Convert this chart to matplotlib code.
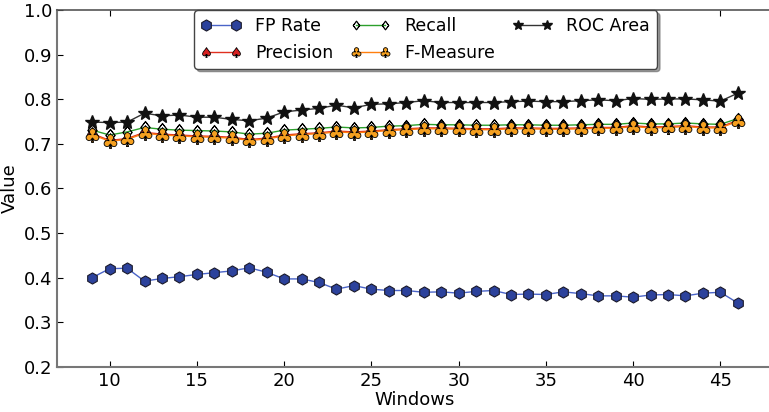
import matplotlib
matplotlib.use("Agg")
import matplotlib.pyplot as plt

# windows 9..46
windows = list(range(9, 47))

fp_rate = [0.400, 0.420, 0.421, 0.392, 0.398, 0.402, 0.407, 0.411, 0.415, 0.422,
           0.412, 0.397, 0.397, 0.389, 0.374, 0.382, 0.374, 0.371, 0.371, 0.367,
           0.368, 0.365, 0.369, 0.371, 0.362, 0.363, 0.362, 0.368, 0.364, 0.359,
           0.359, 0.356, 0.361, 0.362, 0.359, 0.365, 0.367, 0.343]

precision = [0.723, 0.708, 0.712, 0.726, 0.722, 0.720, 0.718, 0.717, 0.715, 0.710,
             0.713, 0.720, 0.723, 0.725, 0.729, 0.727, 0.729, 0.732, 0.734, 0.736,
             0.736, 0.735, 0.734, 0.734, 0.736, 0.736, 0.735, 0.735, 0.736, 0.737,
             0.737, 0.741, 0.738, 0.739, 0.741, 0.738, 0.738, 0.753]

recall = [0.731, 0.720, 0.727, 0.737, 0.733, 0.731, 0.730, 0.729, 0.727, 0.722,
          0.724, 0.731, 0.733, 0.735, 0.738, 0.736, 0.737, 0.740, 0.741, 0.744,
          0.743, 0.743, 0.742, 0.742, 0.743, 0.743, 0.742, 0.742, 0.743, 0.744,
          0.744, 0.747, 0.745, 0.745, 0.747, 0.745, 0.744, 0.757]

f_measure = [0.721, 0.706, 0.710, 0.724, 0.720, 0.718, 0.716, 0.715, 0.713, 0.708,
             0.711, 0.718, 0.721, 0.723, 0.727, 0.725, 0.727, 0.730, 0.732, 0.734,
             0.734, 0.733, 0.732, 0.732, 0.734, 0.734, 0.733, 0.733, 0.734, 0.735,
             0.735, 0.739, 0.736, 0.737, 0.739, 0.736, 0.736, 0.751]

roc_area = [0.749, 0.748, 0.749, 0.769, 0.763, 0.765, 0.760, 0.760, 0.755, 0.752,
            0.758, 0.772, 0.776, 0.780, 0.787, 0.781, 0.789, 0.790, 0.793, 0.797,
            0.793, 0.793, 0.793, 0.793, 0.795, 0.796, 0.795, 0.795, 0.797, 0.799,
            0.797, 0.802, 0.800, 0.801, 0.801, 0.799, 0.796, 0.814]

fig = plt.figure(figsize=(7.69, 4.12), dpi=100)
ax = fig.add_axes([0.0745, 0.110, 0.9303, 0.865])

ax.plot(windows, fp_rate, color='#4a64c8', lw=1, marker='h', ms=8,
        mfc='#2c429c', mec='#1a1a2a', mew=0.8, label='FP Rate')
ax.plot(windows, precision, color='#e03020', lw=1, marker=r'$\spadesuit$', ms=10,
        mfc='#d62020', mec='black', mew=0.6, label='Precision')
ax.plot(windows, recall, color='#2ca02c', lw=1, marker=r'$\diamondsuit$', ms=9,
        mfc='white', mec='black', mew=0.6, label='Recall')
ax.plot(windows, f_measure, color='#ff7f0e', lw=1, marker=r'$\clubsuit$', ms=10,
        mfc='#f5a020', mec='black', mew=0.6, label='F-Measure')
ax.plot(windows, roc_area, color='#333333', lw=1, marker='*', ms=10,
        mfc='#111111', mec='#111111', label='ROC Area')

ax.set_xlim(7, 48)
ax.set_ylim(0.2, 1.0)
ax.set_xticks([10, 15, 20, 25, 30, 35, 40, 45])
ax.set_yticks([0.2, 0.3, 0.4, 0.5, 0.6, 0.7, 0.8, 0.9, 1.0])
ax.tick_params(direction='in', top=True, right=False, labelsize=13, length=4)
for s in ax.spines.values():
    s.set_color('#777777')
    s.set_linewidth(1.5)
ax.spines['right'].set_visible(False)
ax.spines['top'].set_color('#555555')
ax.spines['top'].set_linewidth(1.2)

ax.set_xlabel('Windows', fontsize=13, labelpad=1)
ax.set_ylabel('Value', fontsize=13, labelpad=4)

leg = ax.legend(loc='upper center', bbox_to_anchor=(0.515, 1.005), ncol=3, numpoints=2,
                shadow=True, fontsize=12.5, handlelength=2.3, columnspacing=1.0,
                edgecolor='#444444', framealpha=1, borderaxespad=0.1)
for h, size in zip(leg.legend_handles, [8, 7, 6.5, 7, 7]):
    h.set_markersize(size)

fig.savefig('out.png', dpi=100)
